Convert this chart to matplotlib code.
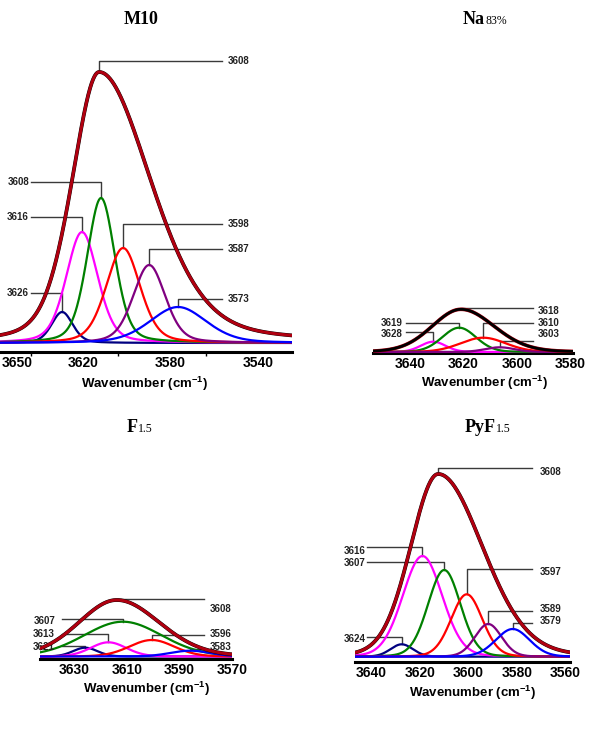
import matplotlib

matplotlib.use("Agg")
import matplotlib.pyplot as plt
import numpy as np

W, H, DPI = 603, 744, 100
SCALE = 1000.0  # pixels of height per absorbance unit (a.u.)

COLORS = {
    "navy": "#000080",
    "magenta": "#FF00FF",
    "green": "#008000",
    "red": "#FF0000",
    "purple": "#800080",
    "blue": "#0000FF",
}
FIT_COLOR = "#B00010"

# ---- M10 ----
M10_PEAKS = ["navy", "magenta", "green", "red", "purple", "blue"]
M10_CENTER = [3629.6, 3620.5, 3611.8, 3601.7, 3589.8, 3576.6]
M10_HEIGHT = [0.031, 0.111, 0.145, 0.095, 0.078, 0.036]
M10_FWHM = [11.4, 17.0, 15.0, 18.3, 17.4, 30.6]
M10_TOTAL = (3612.7, 0.271, 14.6, 27.9)  # centre, height, HWHM left, HWHM right
M10_BASE = 0.009
M10_LABELS = ["3608", "3608", "3616", "3626", "3598", "3587", "3573"]
M10_LABEL_PEAK = ["total", "green", "magenta", "navy", "red", "purple", "blue"]
M10_TICKS = [3650, 3620, 3580, 3540]

# ---- Na83% ----
NA_PEAKS = ["magenta", "green", "red", "purple"]
NA_CENTER = [3631.3, 3621.6, 3612.6, 3606.4]
NA_HEIGHT = [0.0103, 0.0243, 0.0143, 0.0047]
NA_FWHM = [11.0, 15.0, 20.0, 13.0]
NA_TOTAL = (3620.9, 0.0427, 12.7, 14.6)
NA_BASE = 0.001
NA_LABELS = ["3618", "3610", "3603", "3619", "3628"]
NA_LABEL_PEAK = ["total", "red", "purple", "green", "magenta"]
NA_TICKS = [3640, 3620, 3600, 3580]

# ---- F1.5 ----
F_PEAKS = ["navy", "magenta", "green", "red", "blue"]
F_CENTER = [3625.8, 3617.0, 3611.5, 3600.5, 3585.9]
F_HEIGHT = [0.0088, 0.0142, 0.0348, 0.0165, 0.0058]
F_FWHM = [11.0, 16.0, 35.0, 20.0, 18.0]
F_TOTAL = (3613.8, 0.0565, 17.0, 19.0)
F_BASE = 0.0025
F_LABELS = ["3608", "3596", "3583", "3607", "3613", "3621"]
F_LABEL_PEAK = ["total", "red", "blue", "green", "magenta", "navy"]
F_TICKS = [3630, 3610, 3590, 3570]

# ---- PyF1.5 ----
PY_PEAKS = ["navy", "magenta", "green", "red", "purple", "blue"]
PY_CENTER = [3627.6, 3619.0, 3610.0, 3600.7, 3591.8, 3581.7]
PY_HEIGHT = [0.0124, 0.1007, 0.0867, 0.0624, 0.0327, 0.0277]
PY_FWHM = [11.0, 19.3, 15.8, 15.2, 13.0, 16.5]
PY_TOTAL = (3612.5, 0.1827, 13.4, 21.5)
PY_BASE = 0.005
PY_LABELS = ["3608", "3597", "3589", "3579", "3616", "3607", "3624"]
PY_LABEL_PEAK = ["total", "red", "purple", "blue", "magenta", "green", "navy"]
PY_TICKS = [3640, 3620, 3600, 3580, 3560]

# Layout in figure pixels (origin top-left): axes box, label columns, leader heights.
LAYOUT = {
    "M10": dict(left=0, right=292, axis_y=352, top=50, xlim=(3658, 3524.5),
                eta=0.3, black_on_top=False, r_text=228, r_end=222,
                l_text=29, l_start=31,
                lines=[61, 182, 217, 293, 224, 249, 299],
                texts=[61, 182, 217, 293, 224, 249, 299],
                sides="RLLLRRR", xlabel=(145, 383)),
    "NA": dict(left=373, right=573, axis_y=353, top=50, xlim=(3653.8, 3579),
               eta=0.1, black_on_top=True, r_text=538, r_end=533,
               l_text=403, l_start=406,
               lines=[308.3, 323.3, 340.7, 323.3, 332.3],
               texts=[310.7, 322.7, 334.3, 322.7, 334.0],
               sides="RRRLL", xlabel=(485, 382)),
    "F": dict(left=40, right=232, axis_y=659, top=440, xlim=(3643, 3570),
              eta=0.1, black_on_top=False, r_text=210, r_end=204,
              l_text=55, l_start=61.7,
              lines=[599.3, 635, 648.7, 619, 634.3, 646],
              texts=[609.3, 633.7, 647.3, 621, 634.3, 647.3],
              sides="RRRLLL", xlabel=(147, 688)),
    "PY": dict(left=355, right=570, axis_y=661.7, top=440, xlim=(3646.9, 3558),
               eta=0.1, black_on_top=False, r_text=540, r_end=531.7,
               l_text=365.7, l_start=366.7,
               lines=[467.7, 569.3, 610.7, 622.7, 547.3, 562.3, 636.7],
               texts=[471.7, 572.3, 609.3, 621.3, 551, 563, 639],
               sides="RRRRLLL", xlabel=(473, 692)),
}


def pseudo_voigt(x, c, h, fwhm, eta):
    u = (x - c) / fwhm
    g = np.exp(-4 * np.log(2) * u ** 2)
    lor = 1.0 / (1.0 + 4 * u ** 2)
    return h * (eta * lor + (1 - eta) * g)


def envelope(x, c, h, hl, hr, eta):
    fwhm = np.where(x > c, 2 * hl, 2 * hr)
    return pseudo_voigt(x, c, h, fwhm, eta)


def draw_panel(fig, lay, peaks, centers, heights, fwhms, total, base,
               labels, label_peak, ticks):
    ax = fig.add_axes([lay["left"] / W, 1 - lay["axis_y"] / H,
                       (lay["right"] - lay["left"]) / W,
                       (lay["axis_y"] - lay["top"]) / H])
    x0, x1 = lay["xlim"]
    ax.set_xlim(x0, x1)
    ax.set_ylim(0, (lay["axis_y"] - lay["top"]) / SCALE)

    def px_x(px):
        return x0 + (px - lay["left"]) / (lay["right"] - lay["left"]) * (x1 - x0)

    def px_y(py):
        return (lay["axis_y"] - py) / SCALE

    x = np.linspace(x0, x1, 600)
    eta = lay["eta"]
    tops = {}
    for name, c, h, w in zip(peaks, centers, heights, fwhms):
        ax.plot(x, base + pseudo_voigt(x, c, h, w, eta), color=COLORS[name],
                lw=1.6, solid_capstyle="round", zorder=3)
        tops[name] = (c, base + h)
    tc, th, hl, hr = total
    env = base + envelope(x, tc, th, hl, hr, eta)
    tops["total"] = (tc, base + th)
    if lay["black_on_top"]:
        ax.plot(x, env, color=FIT_COLOR, lw=2.6, zorder=4)
        ax.plot(x, env, color="black", lw=2.0, zorder=5)
    else:
        ax.plot(x, env, color="black", lw=2.7, zorder=4)
        ax.plot(x, env, color=FIT_COLOR, lw=2.2, zorder=5)

    # leader lines and peak labels
    for lab, target, side, ly, ty in zip(labels, label_peak, lay["sides"],
                                         lay["lines"], lay["texts"]):
        c, top = tops[target]
        if side == "R":
            xe = px_x(lay["r_end"])
            ax.text(px_x(lay["r_text"]), px_y(ty), lab, ha="left", va="center",
                    fontsize=7, fontweight="bold", color="#222222", clip_on=False)
        else:
            xe = px_x(lay["l_start"])
            ax.text(px_x(lay["l_text"]), px_y(ty), lab, ha="right", va="center",
                    fontsize=7, fontweight="bold", color="#222222", clip_on=False)
        ax.plot([xe, c, c], [px_y(ly), px_y(ly), top], color="#3a3a3a", lw=1.0,
                zorder=2, clip_on=False)

    for s in ("left", "right", "top"):
        ax.spines[s].set_visible(False)
    ax.spines["bottom"].set_linewidth(2.2)
    ax.set_yticks([])
    ax.set_xticks(ticks)
    ax.set_xticklabels([str(t) for t in ticks], fontsize=10, fontweight="bold")
    ax.tick_params(axis="x", length=0, pad=3)
    ax.set_xlabel(r"Wavenumber (cm$^{\mathbf{-1}}$)", fontsize=9.5,
                  fontweight="bold")
    lx, lyb = lay["xlabel"]
    ax.xaxis.set_label_coords((lx - lay["left"]) / (lay["right"] - lay["left"]),
                              -(lyb - lay["axis_y"] - 8) / (lay["axis_y"] - lay["top"]))
    ax.patch.set_visible(False)
    return ax


plt.rcParams["font.family"] = ["Liberation Sans", "DejaVu Sans"]
plt.rcParams["mathtext.fontset"] = "custom"
plt.rcParams["mathtext.bf"] = "Liberation Sans:bold"
plt.rcParams["mathtext.rm"] = "Liberation Sans:bold"

fig = plt.figure(figsize=(W / DPI, H / DPI), dpi=DPI)

ax1 = draw_panel(fig, LAYOUT["M10"], M10_PEAKS, M10_CENTER, M10_HEIGHT, M10_FWHM,
                 M10_TOTAL, M10_BASE, M10_LABELS, M10_LABEL_PEAK, M10_TICKS)
ax1.set_xticks([3644, 3604, 3564], minor=True)
ax1.tick_params(axis="x", which="minor", length=3, width=1)

draw_panel(fig, LAYOUT["NA"], NA_PEAKS, NA_CENTER, NA_HEIGHT, NA_FWHM,
           NA_TOTAL, NA_BASE, NA_LABELS, NA_LABEL_PEAK, NA_TICKS)
draw_panel(fig, LAYOUT["F"], F_PEAKS, F_CENTER, F_HEIGHT, F_FWHM,
           F_TOTAL, F_BASE, F_LABELS, F_LABEL_PEAK, F_TICKS)
draw_panel(fig, LAYOUT["PY"], PY_PEAKS, PY_CENTER, PY_HEIGHT, PY_FWHM,
           PY_TOTAL, PY_BASE, PY_LABELS, PY_LABEL_PEAK, PY_TICKS)

# panel titles (main part bold serif, index smaller regular serif)
TITLES = [("M10", "", 141, 24, "center"), ("Na", "83%", 485, 24, "right"),
          ("F", "1.5", 138, 432, "right"), ("PyF", "1.5", 496, 432, "right")]
for main, sub, tx, ty, ha in TITLES:
    fig.text(tx / W, 1 - ty / H, main, ha=ha, va="baseline", fontsize=13,
             fontweight="bold", family="Liberation Serif")
    if sub:
        fig.text(tx / W, 1 - ty / H, sub, ha="left", va="baseline", fontsize=8.5,
                 family="Liberation Serif")

fig.savefig("out.png", dpi=DPI)
